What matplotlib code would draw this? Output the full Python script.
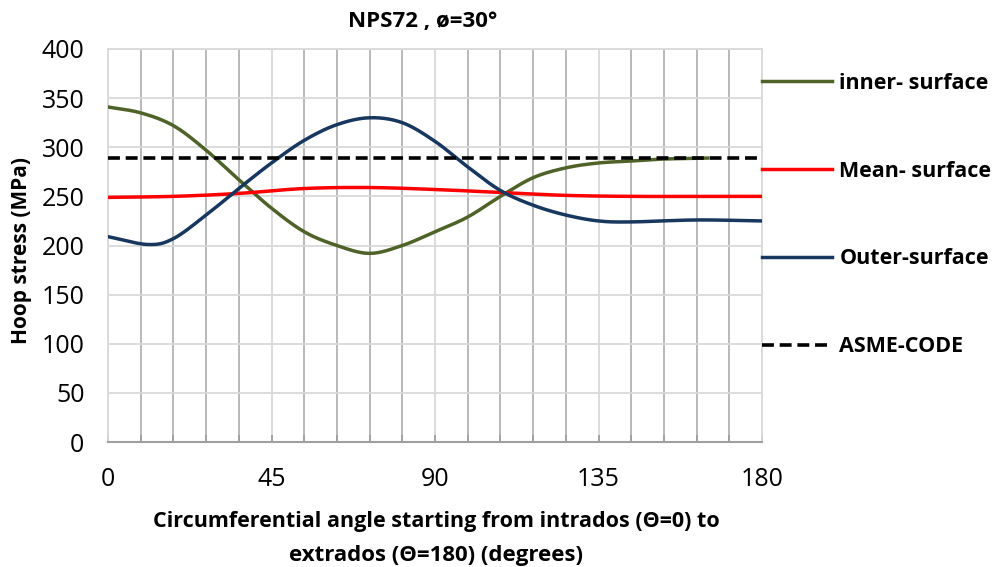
import numpy as np
import matplotlib
matplotlib.use("Agg")
import matplotlib.pyplot as plt
from matplotlib.ticker import MultipleLocator

plt.rcParams["font.family"] = ["Open Sans", "DejaVu Sans"]

# angles (degrees) and hoop stress (MPa)
angle_inner = [0, 9, 18, 27, 36, 45, 54, 63, 72, 81, 90, 99, 108, 117, 126, 135, 144, 153, 165]
inner = [341, 335, 322, 297, 267, 238, 214, 200, 192, 200, 214, 229, 250, 269, 279, 284, 286, 288, 289]

angle_mean = [0, 18, 36, 54, 72, 90, 108, 126, 144, 162, 180]
mean = [249, 250, 253, 258, 259, 257, 254, 251, 250, 250, 250]

angle_outer = [0, 11, 18, 27, 36, 45, 54, 63, 72, 81, 90, 99, 108, 117, 126, 135, 144, 162, 180]
outer = [209, 201, 207, 231, 258, 284, 307, 323, 330, 325, 306, 280, 256, 241, 231, 225, 224, 226, 225]

asme_angle = [0, 180]
asme = [289, 289]


def smooth(x, y, n=20):
    # Catmull-Rom style smoothing, like Excel's smoothed line
    x = np.asarray(x, float)
    y = np.asarray(y, float)
    px = np.concatenate([[2 * x[0] - x[1]], x, [2 * x[-1] - x[-2]]])
    py = np.concatenate([[2 * y[0] - y[1]], y, [2 * y[-1] - y[-2]]])
    xs, ys = [], []
    t = np.linspace(0, 1, n, endpoint=False)
    for i in range(1, len(px) - 2):
        p0, p1, p2, p3 = (np.array([px[j], py[j]]) for j in range(i - 1, i + 3))
        for tt in t:
            pt = 0.5 * ((2 * p1) + (-p0 + p2) * tt
                        + (2 * p0 - 5 * p1 + 4 * p2 - p3) * tt ** 2
                        + (-p0 + 3 * p1 - 3 * p2 + p3) * tt ** 3)
            xs.append(pt[0])
            ys.append(pt[1])
    xs.append(x[-1])
    ys.append(y[-1])
    return xs, ys


W, H = 999, 567
fig = plt.figure(figsize=(W / 100, H / 100), dpi=100)
ax = fig.add_axes([108 / W, 1 - 442 / H, 654 / W, 393 / H])

ax.plot(*smooth(angle_inner, inner), color="#4F6228", lw=2.5, label="inner- surface", zorder=3)
ax.plot(*smooth(angle_mean, mean), color="#FF0000", lw=2.5, label="Mean- surface", zorder=3)
ax.plot(*smooth(angle_outer, outer), color="#17375E", lw=2.5, label="Outer-surface", zorder=3)
ax.plot(asme_angle, asme, color="black", lw=2.6, ls=(0, (3.3, 1.6)), label="ASME-CODE", zorder=4)

ax.set_xlim(0, 180)
ax.set_ylim(0, 400)
ax.xaxis.set_major_locator(MultipleLocator(45))
ax.xaxis.set_minor_locator(MultipleLocator(9))
ax.yaxis.set_major_locator(MultipleLocator(50))

ax.grid(which="major", axis="y", color="#d9d9d9", lw=1.3)
ax.grid(which="minor", axis="x", color="#b3b3b3", lw=1.3)
ax.grid(which="major", axis="x", color="#d9d9d9", lw=1.3)
ax.set_axisbelow(True)

for s in ["top", "right", "left"]:
    ax.spines[s].set_color("#d9d9d9")
    ax.spines[s].set_linewidth(1.3)
ax.spines["bottom"].set_color("#a0a0a0")
ax.spines["bottom"].set_linewidth(1.5)

ax.tick_params(axis="y", length=0, labelsize=18, pad=17)
ax.tick_params(axis="x", which="major", direction="in", length=5, color="#a0a0a0",
               width=1.3, labelsize=18, pad=18)
ax.tick_params(axis="x", which="minor", direction="in", length=5, color="#a0a0a0", width=1.3)

fig.text(423 / W, 1 - 22 / H, "NPS72 , ø=30°", fontsize=16, fontweight="bold",
         ha="center", va="center")
fig.text(22 / W, 1 - 251 / H, "Hoop stress (MPa)", fontsize=15, fontweight="bold",
         ha="center", va="center", rotation=90)
fig.text(436 / W, 1 - 522 / H, "Circumferential angle starting from intrados (Θ=0) to",
         fontsize=15.5, fontweight="bold", ha="center", va="center")
fig.text(436 / W, 1 - 555 / H, "extrados (Θ=180) (degrees)",
         fontsize=16, fontweight="bold", ha="center", va="center")

leg = ax.legend(loc="upper left", bbox_to_anchor=(762 / W, 1 - 73 / H), bbox_transform=fig.transFigure,
                frameon=False, handlelength=3.26, handletextpad=0.33, labelspacing=3.1,
                borderaxespad=0, borderpad=0, prop={"size": 15.5, "weight": "bold"})

fig.savefig("out.png", dpi=100)
